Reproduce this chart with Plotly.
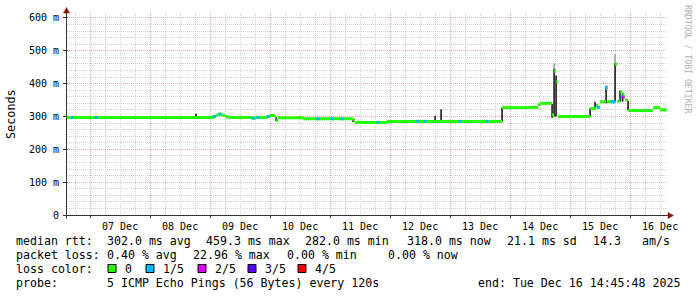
import plotly.graph_objects as go

# ---------------- data ----------------
T_START = "2025-12-06 14:45:48"
T_END = "2025-12-16 14:45:48"

# median RTT (ms), step function: value holds from time[i] to time[i+1]
med_times = [
    "2025-12-06 14:45:48", "2025-12-09 01:36", "2025-12-09 02:24", "2025-12-09 03:12",
    "2025-12-09 04:48", "2025-12-09 06:00", "2025-12-09 07:12", "2025-12-09 16:48",
    "2025-12-09 18:24", "2025-12-09 23:12", "2025-12-10 00:00", "2025-12-10 02:00",
    "2025-12-10 02:24", "2025-12-10 03:12", "2025-12-10 13:12", "2025-12-11 09:12",
    "2025-12-11 10:00", "2025-12-11 22:48", "2025-12-13 20:48", "2025-12-14 07:36",
    "2025-12-14 11:12", "2025-12-14 12:00", "2025-12-14 16:48", "2025-12-14 17:36",
    "2025-12-14 18:24", "2025-12-14 19:12", "2025-12-15 08:00", "2025-12-15 10:24",
    "2025-12-15 11:12", "2025-12-15 12:00", "2025-12-15 14:24", "2025-12-15 14:48",
    "2025-12-15 18:00", "2025-12-15 18:48", "2025-12-15 20:00", "2025-12-15 20:48",
    "2025-12-15 21:36", "2025-12-15 22:00", "2025-12-15 23:12", "2025-12-16 09:12",
    "2025-12-16 12:00", "2025-12-16 14:45:48",
]
med_values = [
    297, 300, 304, 307,
    304, 299, 297, 295,
    297, 300, 303, 299,
    288, 296, 293, 289,
    282, 285, 327, 328,
    336, 340, 305, 438,
    405, 300, 324, 334,
    328, 345, 386, 345,
    459, 347, 375, 368,
    362, 350, 318, 327,
    320, 320,
]

# spots where 1 of 5 pings was lost (blue)
loss1_times = [
    "2025-12-06 16:48", "2025-12-07 02:24", "2025-12-09 01:36", "2025-12-09 04:00",
    "2025-12-09 17:12", "2025-12-09 19:12", "2025-12-09 23:12", "2025-12-10 19:12",
    "2025-12-11 00:48", "2025-12-11 04:48", "2025-12-11 19:12", "2025-12-12 10:48",
    "2025-12-12 14:00", "2025-12-13 04:00", "2025-12-13 14:48", "2025-12-15 11:12",
    "2025-12-15 14:30", "2025-12-15 16:48", "2025-12-15 17:12", "2025-12-15 17:36",
    "2025-12-15 20:48",
]
loss1_values = [
    297, 297, 300, 307,
    295, 297, 300, 293,
    293, 293, 282, 285,
    285, 285, 285, 328,
    388, 345, 345, 345,
    360,
]
# spots where 2 of 5 pings were lost (magenta)
loss2_times = ["2025-12-15 21:12"]
loss2_values = [358]

# smoke: spread of the individual pings (dark)
smoke_times = [
    "2025-12-08 18:24", "2025-12-10 02:24", "2025-12-11 09:12", "2025-12-12 18:00",
    "2025-12-12 20:24", "2025-12-13 20:48", "2025-12-14 16:48", "2025-12-14 17:36",
    "2025-12-14 18:24", "2025-12-15 08:00", "2025-12-15 10:00", "2025-12-15 14:24",
    "2025-12-15 18:00", "2025-12-15 20:00", "2025-12-15 21:00", "2025-12-15 23:12",
]
smoke_lo = [293, 286, 283, 285, 283, 285, 296, 300, 300, 300, 325, 340, 345, 345, 345, 318]
smoke_hi = [308, 298, 293, 302, 322, 327, 338, 445, 425, 325, 345, 390, 462, 378, 372, 348]

# faint smoke above the big spikes (grey)
haze_times = ["2025-12-14 17:36", "2025-12-15 18:00", "2025-12-15 14:24"]
haze_lo = [445, 462, 390]
haze_hi = [462, 490, 396]

y_tickvals = [0, 100, 200, 300, 400, 500, 600]
y_ticktext = ["0", "100 m", "200 m", "300 m", "400 m", "500 m", "600 m"]

legend_lines = [
    [("median rtt:", 16), ("302.0 ms avg", 107), ("459.3 ms max", 206),
     ("282.0 ms min", 305), ("318.0 ms now", 407), ("21.1 ms sd", 507),
     ("14.3", 593), ("am/s", 642)],
    [("packet loss:", 16), ("0.40 % avg", 107), ("22.96 % max", 193),
     ("0.00 % min", 287), ("0.00 % now", 388)],
    [("loss color:", 16)],
    [("probe:", 16), ("5 ICMP Echo Pings (56 Bytes) every 120s", 107),
     ("end: Tue Dec 16 14:45:48 2025", 478)],
]
loss_labels = ["0", "1/5", "2/5", "3/5", "4/5"]
loss_colors = ["#26ff00", "#00b8ff", "#dd00ff", "#5e00ff", "#ff0000"]

# ---------------- geometry helpers ----------------
W, H = 697, 297
PL, PR, PT, PB = 67, 667, 13, 215   # plot area in pixels


def px(x):
    return (x - PL) / (PR - PL)


def py(y):
    return (PB - y) / (PB - PT)


MONO = "DejaVu Sans Mono"
fig = go.Figure()

# smoke (grey haze)
hx, hy = [], []
for t, lo, hi in zip(haze_times, haze_lo, haze_hi):
    hx += [t, t, None]
    hy += [lo, hi, None]
fig.add_trace(go.Scatter(x=hx, y=hy, mode="lines",
                         line=dict(color="#9a9a9a", width=1.5), hoverinfo="skip"))

# smoke (dark)
sx, sy = [], []
for t, lo, hi in zip(smoke_times, smoke_lo, smoke_hi):
    sx += [t, t, None]
    sy += [lo, hi, None]
fig.add_trace(go.Scatter(x=sx, y=sy, mode="lines",
                         line=dict(color="#1a1a1a", width=1.6), hoverinfo="skip"))

# median as horizontal steps
mx, my = [], []
for i in range(len(med_times) - 1):
    mx += [med_times[i], med_times[i + 1], None]
    my += [med_values[i], med_values[i], None]
fig.add_trace(go.Scatter(x=mx, y=my, mode="lines",
                         line=dict(color=loss_colors[0], width=3), hoverinfo="skip"))

fig.add_trace(go.Scatter(x=loss1_times, y=loss1_values, mode="markers",
                         marker=dict(symbol="square", size=3, color=loss_colors[1],
                                     line=dict(width=0)), hoverinfo="skip"))
fig.add_trace(go.Scatter(x=loss2_times, y=loss2_values, mode="markers",
                         marker=dict(symbol="square", size=3, color=loss_colors[2],
                                     line=dict(width=0)), hoverinfo="skip"))

GRID_MINOR = "#d0d0d0"
GRID_MAJOR = "#e8a8a8"
DASH = "1px,1px"

fig.update_layout(
    width=W, height=H,
    margin=dict(l=PL, r=W - PR, t=PT, b=H - PB, pad=0),
    paper_bgcolor="white", plot_bgcolor="white",
    showlegend=False,
    font=dict(family=MONO, size=10, color="#000"),
    xaxis=dict(
        type="date", range=[T_START, T_END],
        tick0="2025-12-07", dtick=86400000, tickformat="%d %b",
        ticklabelmode="period",
        showgrid=True, gridcolor=GRID_MAJOR, gridwidth=1, griddash=DASH,
        minor=dict(dtick=21600000, showgrid=True, gridcolor=GRID_MINOR,
                   gridwidth=1, griddash=DASH),
        ticks="outside", ticklen=2, tickcolor="#333",
        showline=False, zeroline=False,
        tickfont=dict(family=MONO, size=10, color="#000"),
        fixedrange=True,
    ),
    yaxis=dict(
        range=[0, 615],
        tickvals=y_tickvals, ticktext=y_ticktext,
        showgrid=True, gridcolor=GRID_MAJOR, gridwidth=1, griddash=DASH,
        minor=dict(dtick=20, showgrid=True, gridcolor=GRID_MINOR,
                   gridwidth=1, griddash=DASH),
        ticks="outside", ticklen=3, tickcolor="#333",
        showline=False, zeroline=False,
        tickfont=dict(family=MONO, size=10, color="#000"),
        ticklabelstandoff=2,
        fixedrange=True,
    ),
)

shapes = []
AXIS_C = "#333333"
ARROW_C = "#8b1010"
# axis lines
shapes.append(dict(type="line", xref="paper", yref="paper",
                   x0=px(63), x1=px(668), y0=py(215.5), y1=py(215.5),
                   line=dict(color=AXIS_C, width=1)))
shapes.append(dict(type="line", xref="paper", yref="paper",
                   x0=px(66.5), x1=px(66.5), y0=py(218.5), y1=py(12),
                   line=dict(color=AXIS_C, width=1)))
# arrows
shapes.append(dict(type="path", xref="paper", yref="paper",
                   path=f"M {px(63.5)} {py(13)} L {px(69.5)} {py(13)} L {px(66.5)} {py(7.5)} Z",
                   fillcolor=ARROW_C, line=dict(color=ARROW_C, width=0.5)))
shapes.append(dict(type="path", xref="paper", yref="paper",
                   path=f"M {px(668)} {py(212.5)} L {px(668)} {py(218.5)} L {px(673.5)} {py(215.5)} Z",
                   fillcolor=ARROW_C, line=dict(color=ARROW_C, width=0.5)))

annotations = []


def add_text(text, x, y, size=11.6, color="#000", angle=0, xanchor="left"):
    annotations.append(dict(
        text=text.replace(" ", "\u00a0"), x=px(x), y=py(y), xref="paper", yref="paper",
        xanchor=xanchor, yanchor="middle", showarrow=False, textangle=angle,
        borderpad=0, borderwidth=0,
        font=dict(family=MONO, size=size, color=color)))


line_y = [241, 255, 269, 283.3]
for row, yy in zip(legend_lines, line_y):
    for txt, xx in row:
        add_text(txt, xx, yy)

# loss colour boxes
box_x = [108, 146, 198, 248, 298]
for lab, col, bx in zip(loss_labels, loss_colors, box_x):
    shapes.append(dict(type="rect", xref="paper", yref="paper",
                       x0=px(bx), x1=px(bx + 8), y0=py(272.5), y1=py(264.5),
                       fillcolor=col, line=dict(color="#000", width=1)))
    add_text(lab, bx + 17, line_y[2])

# axis title and watermark
add_text("Seconds", 11, 114, size=11.8, angle=-90, xanchor="center")
add_text("RRDTOOL / TOBI OETIKER", 688, 59, size=8.2, color="#b0b0b0", angle=90,
         xanchor="center")

fig.update_layout(shapes=shapes, annotations=annotations)
fig.write_html("out.html")
